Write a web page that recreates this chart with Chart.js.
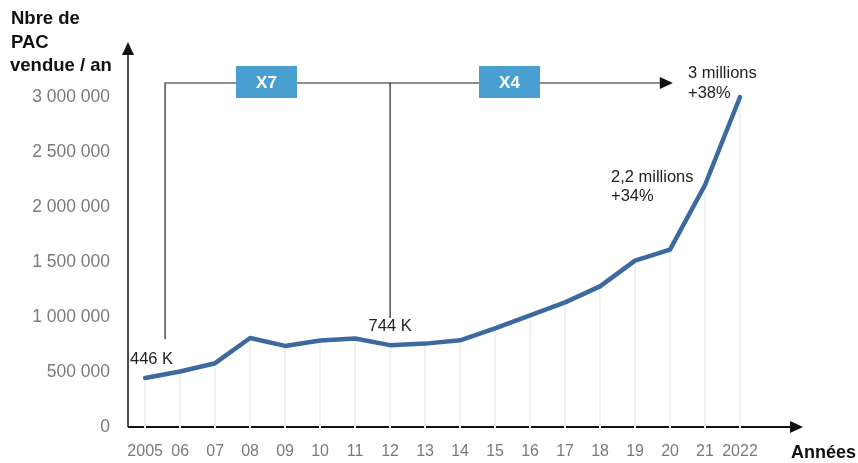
<!DOCTYPE html>
<html>
<head>
<meta charset="utf-8">
<script src="https://cdn.jsdelivr.net/npm/chart.js@4.4.1/dist/chart.umd.min.js"></script>
<style>
  html, body { margin: 0; padding: 0; background: #fff; }
  #wrap { width: 858px; height: 463px; position: relative; }
</style>
</head>
<body>
<div id="wrap"><canvas id="pacChart" width="858" height="463"></canvas></div>
<script>
// values
const years = ['2005', '06', '07', '08', '09', '10', '11', '12', '13', '14', '15', '16', '17', '18', '19', '20', '21', '2022'];
const sales = [446000, 505000, 580000, 809000, 737000, 786000, 804000, 744000, 758000, 788000, 897000, 1015000, 1133000, 1278000, 1513000, 1613000, 2200000, 3000000];
const yTicks = [0, 500000, 1000000, 1500000, 2000000, 2500000, 3000000];

const lineBlue = '#3c6a9e';
const boxBlue = '#4a9fd1';
const grey = '#7a7a7a';
const ink = '#222';
const FONT = '"Liberation Sans", Arial, sans-serif';

function fmt(v) {
  return String(v).replace(/\B(?=(\d{3})+(?!\d))/g, ' ');
}

function arrowHead(ctx, tx, ty, dir) {
  ctx.beginPath();
  if (dir === 'up') {
    ctx.moveTo(tx, ty);
    ctx.lineTo(tx - 6, ty + 13);
    ctx.lineTo(tx + 6, ty + 13);
  } else {
    ctx.moveTo(tx, ty);
    ctx.lineTo(tx - 13, ty - 6);
    ctx.lineTo(tx - 13, ty + 6);
  }
  ctx.closePath();
  ctx.fill();
}

// axes first, then light drop lines from each point (they cut the x axis a bit)
const axesAndDrops = {
  id: 'axesAndDrops',
  beforeDatasetsDraw(chart) {
    const { ctx, chartArea: a, scales: { x, y } } = chart;
    const y0 = y.getPixelForValue(0);
    ctx.save();
    ctx.strokeStyle = '#111';
    ctx.fillStyle = '#111';
    ctx.lineWidth = 1.5;
    ctx.beginPath();
    ctx.moveTo(a.left, y0);
    ctx.lineTo(a.left, a.top + 10);
    ctx.stroke();
    arrowHead(ctx, a.left, a.top, 'up');
    ctx.lineWidth = 2;
    ctx.beginPath();
    ctx.moveTo(a.left, y0);
    ctx.lineTo(a.right - 10, y0);
    ctx.stroke();
    arrowHead(ctx, a.right, y0, 'right');

    ctx.strokeStyle = '#f0f0f0';
    ctx.lineWidth = 2;
    sales.forEach((v, i) => {
      const px = Math.round(x.getPixelForValue(i));
      ctx.beginPath();
      ctx.moveTo(px, y.getPixelForValue(v));
      ctx.lineTo(px, y0 + 1.5);
      ctx.stroke();
    });
    ctx.restore();
  }
};

// bracket and labels
const overlay = {
  id: 'overlay',
  afterDraw(chart) {
    const { ctx, scales: { x } } = chart;
    ctx.save();

    const topY = 83;
    const xa = x.getPixelForValue(0.57);
    const xb = x.getPixelForValue(7);
    const xc = x.getPixelForValue(15.08);
    ctx.lineWidth = 1.2;
    ctx.strokeStyle = '#222';
    ctx.fillStyle = '#111';
    ctx.beginPath();
    ctx.moveTo(xa, 339);
    ctx.lineTo(xa, topY);
    ctx.lineTo(xc - 10, topY);
    ctx.moveTo(xb, topY);
    ctx.lineTo(xb, 318);
    ctx.stroke();
    arrowHead(ctx, xc, topY, 'right');

    [['X7', 236], ['X4', 479]].forEach(([t, bx]) => {
      ctx.fillStyle = boxBlue;
      ctx.fillRect(bx, 66, 61, 32);
      ctx.fillStyle = '#fff';
      ctx.font = 'bold 17px ' + FONT;
      ctx.textAlign = 'center';
      ctx.textBaseline = 'middle';
      ctx.fillText(t, bx + 30.5, 83);
    });

    ctx.fillStyle = ink;
    ctx.font = '16.5px ' + FONT;
    ctx.textBaseline = 'alphabetic';
    ctx.textAlign = 'left';
    ctx.fillText('446 K', 130, 364);
    ctx.textAlign = 'center';
    ctx.fillText('744 K', xb, 331);
    ctx.textAlign = 'left';
    ctx.fillText('2,2 millions', 611, 182);
    ctx.fillText('+34%', 611, 201);
    ctx.fillText('3 millions', 688, 78);
    ctx.fillText('+38%', 688, 98);

    ctx.font = 'bold 18.5px ' + FONT;
    ctx.fillStyle = '#111';
    ctx.fillText('Nbre de', 11, 24);
    ctx.fillText('PAC', 11, 48);
    ctx.fillText('vendue / an', 10, 71);
    ctx.font = 'bold 18px ' + FONT;
    ctx.fillText('Années', 791, 458);
    ctx.restore();
  }
};

const ctx = document.getElementById('pacChart').getContext('2d');
const pacChart = new Chart(ctx, {
  type: 'line',
  data: {
    datasets: [{
      label: 'PAC vendues',
      data: sales.map((v, i) => ({ x: i, y: v })),
      borderColor: lineBlue,
      borderWidth: 4.5,
      pointRadius: 0,
      tension: 0,
      borderCapStyle: 'round',
      borderJoinStyle: 'round'
    }]
  },
  options: {
    responsive: false,
    animation: false,
    layout: { padding: { top: 42, right: 55, left: 0, bottom: 0 } },
    plugins: { legend: { display: false }, tooltip: { enabled: false } },
    scales: {
      x: {
        type: 'linear',
        min: -0.49,
        max: 18.8,
        grid: { display: false, drawTicks: false },
        border: { display: false },
        afterBuildTicks: s => { s.ticks = years.map((_, i) => ({ value: i })); },
        afterFit: s => { s.height = 36; },
        ticks: {
          autoSkip: false,
          maxRotation: 0,
          padding: 15,
          color: grey,
          font: { size: 16, family: FONT },
          callback: v => years[v] ?? ''
        }
      },
      y: {
        min: 0,
        max: 3500000,
        grid: { display: false, drawTicks: false },
        border: { display: false },
        afterBuildTicks: s => { s.ticks = yTicks.map(v => ({ value: v })); },
        afterFit: s => { s.width = 128; },
        ticks: {
          padding: 18,
          color: grey,
          font: { size: 17.5, family: FONT },
          callback: v => fmt(v)
        }
      }
    }
  },
  plugins: [axesAndDrops, overlay]
});
</script>
</body>
</html>
